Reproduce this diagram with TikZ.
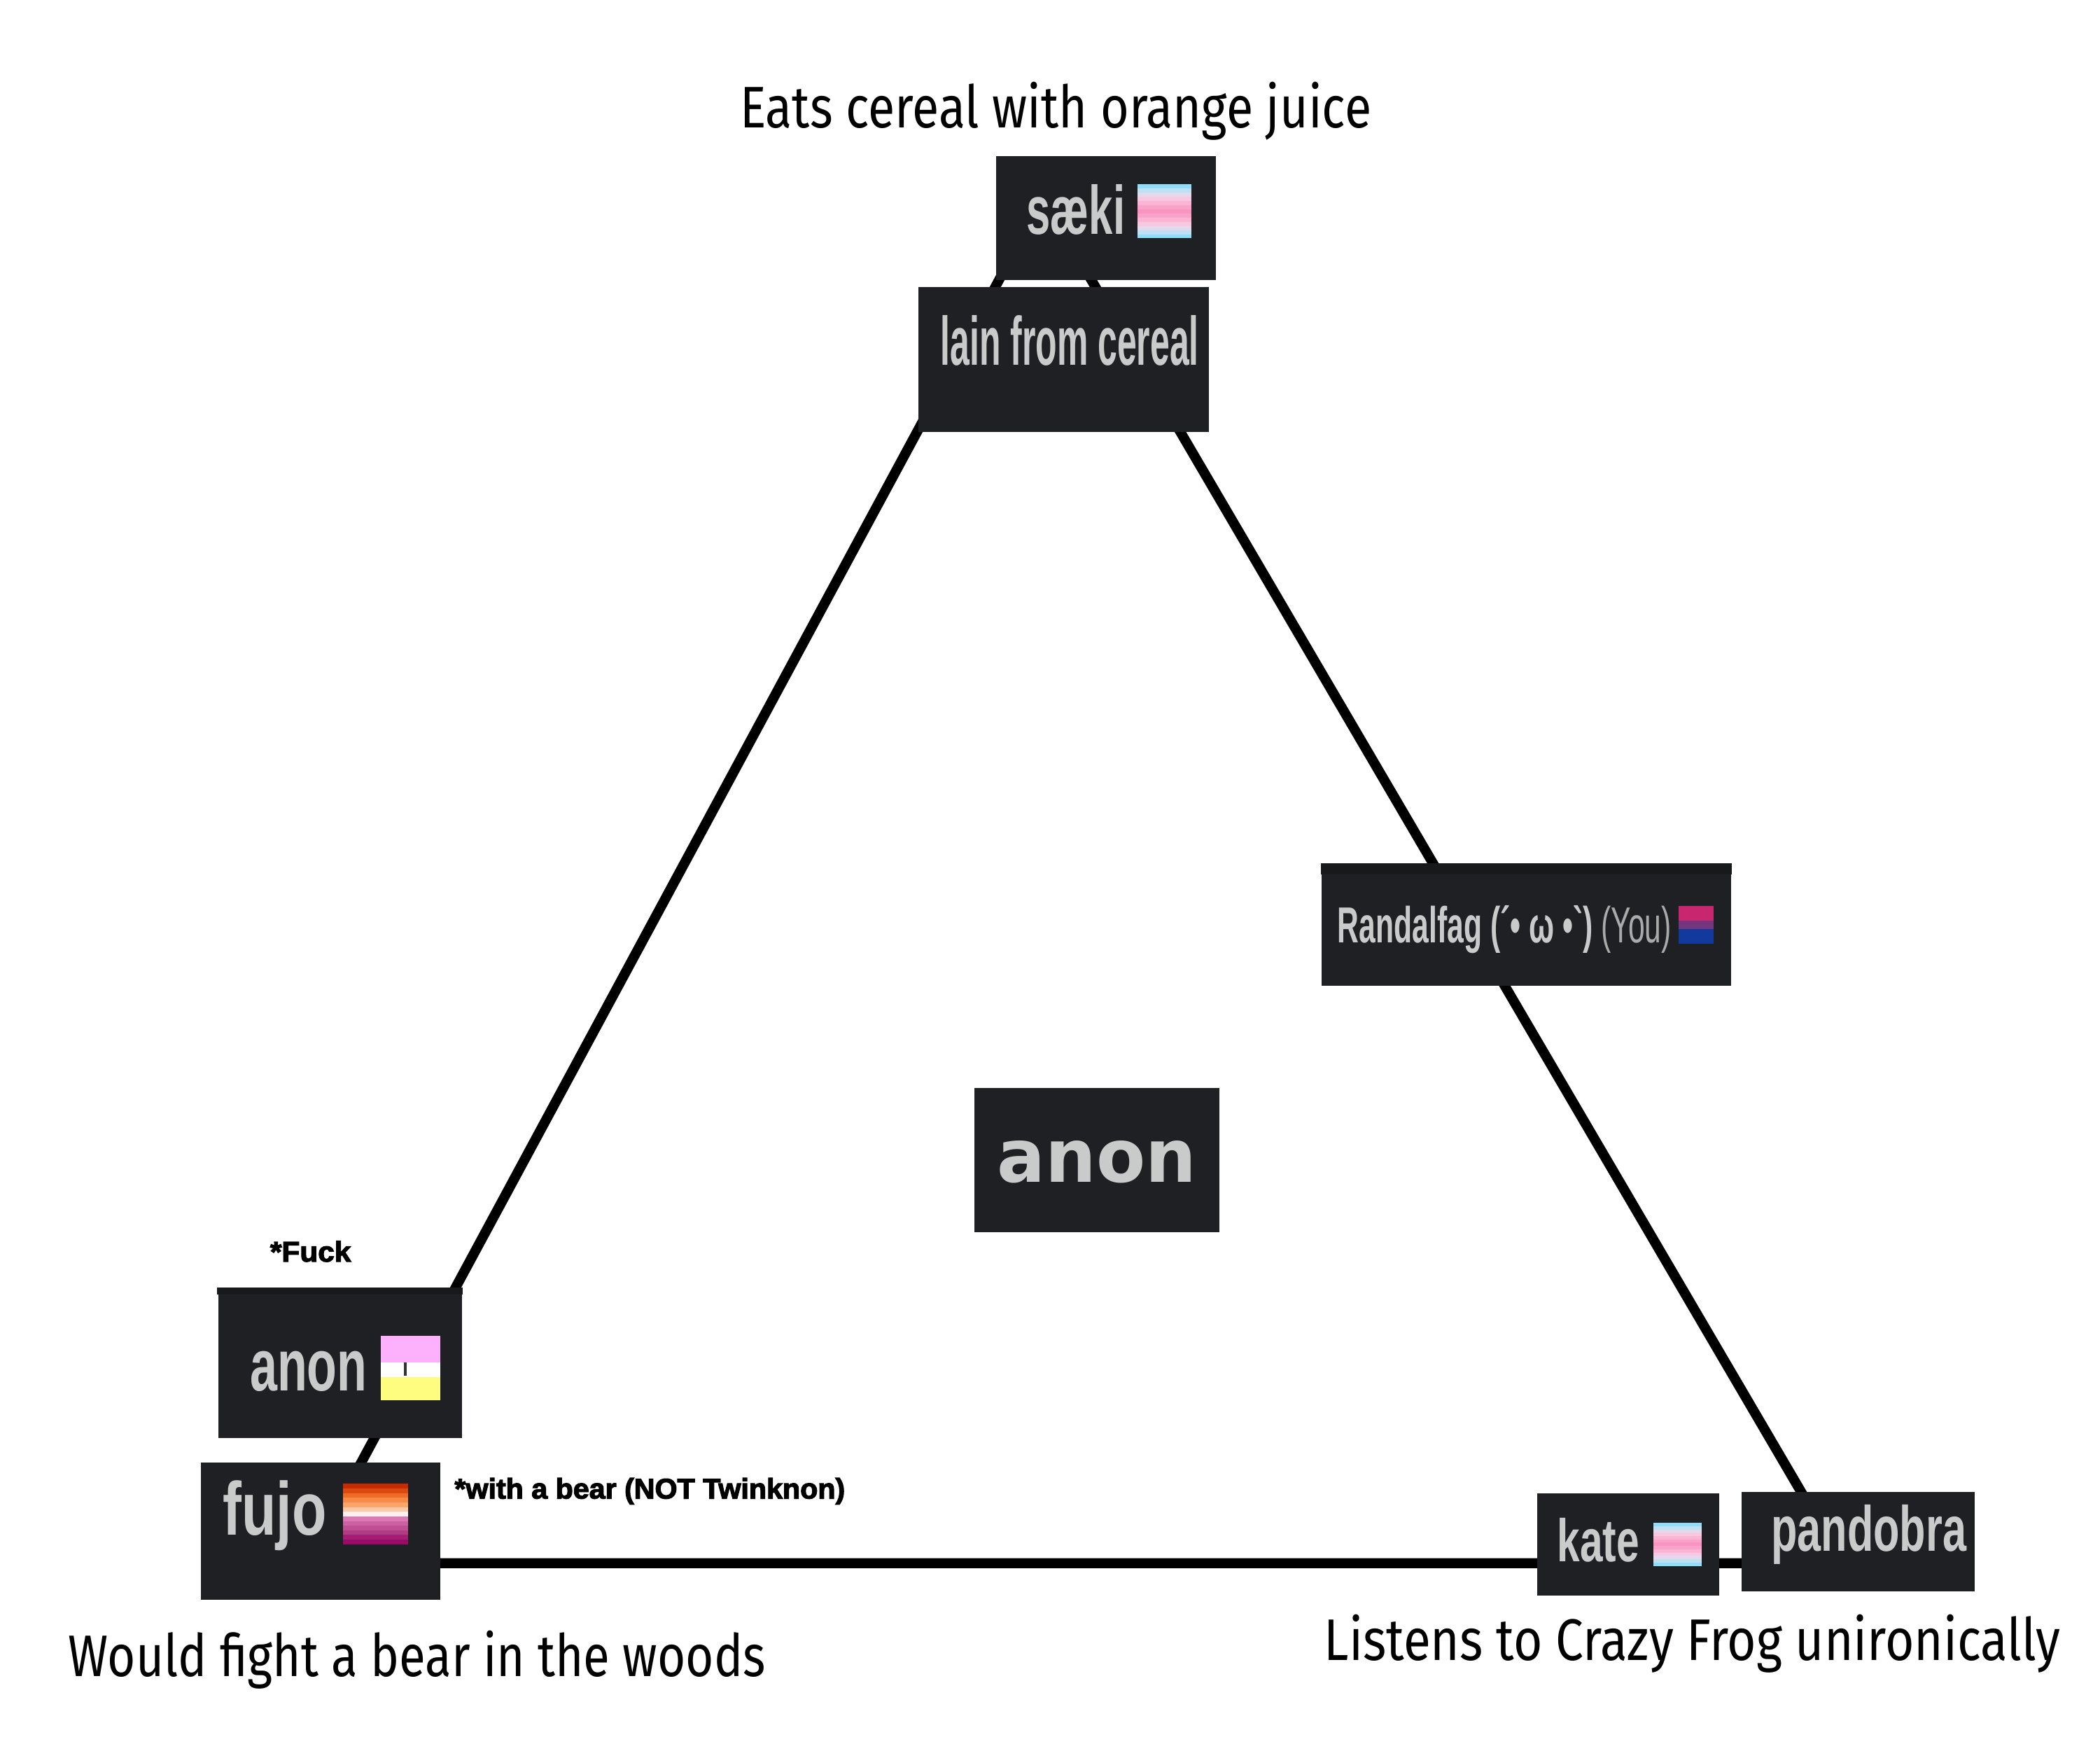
\documentclass[tikz,border=0pt]{standalone}
\usepackage{fontspec}
\usepackage{graphicx}
\setmainfont{Fira Sans}
\newfontfamily\namefont{Liberation Sans}
\newfontfamily\bignamefont{DejaVu Sans}
\newfontfamily\asidefont[FakeBold=3]{Liberation Sans}

\definecolor{boxgray}{HTML}{1F2024}
\definecolor{boxdark}{HTML}{18191B}
\definecolor{namegray}{HTML}{C8CBC9}
\definecolor{yougray}{HTML}{A9AAAA}
\definecolor{bimagenta}{HTML}{C8266E}
\definecolor{bipurple}{HTML}{74367E}
\definecolor{biblue}{HTML}{123A9E}
\definecolor{flagpink}{HTML}{FDB1FD}
\definecolor{flagyellow}{HTML}{FEFD7F}

\newcommand{\fitto}[2]{\resizebox{#1}{\height}{#2}}

\begin{document}
\begin{tikzpicture}[x=0.1mm, y=-0.1mm]
    \tikzset{
        namebox/.style={fill=boxgray, inner sep=0pt},
        nametag/.style={anchor=base west, inner sep=0pt, text=namegray, font=\namefont\bfseries\fontsize{14.5}{16}\selectfont},
        caption/.style={anchor=base west, inner sep=0pt, font=\fontsize{12.4}{14}\selectfont},
        aside/.style={anchor=base west, inner sep=0pt, font=\asidefont\bfseries\fontsize{6}{7}\selectfont},
        edge/.style={line width=2.1pt}
    }
    \fill[white] (0,0) rectangle (1560,1300);
    \useasboundingbox (0,0) rectangle (1560,1300);

    % the triangle, hidden corners behind the boxes
    \coordinate (apex) at (775,147);
    \coordinate (leftfoot) at (228,1161);
    \coordinate (rightfoot) at (1369,1161);
    \draw[edge] (apex) -- (leftfoot) -- (rightfoot) -- cycle;

    % boxes
    \node[namebox, minimum width=16.3mm, minimum height=9.2mm] (saeki) at (821.5,162) {};
    \node[namebox, minimum width=21.6mm, minimum height=10.8mm] (lain) at (790,267) {};
    \node[namebox, minimum width=30.4mm, minimum height=9mm] (randalfag) at (1134,687) {};
    \node[namebox, minimum width=18.2mm, minimum height=10.7mm] (anon) at (815,861.5) {};
    \node[namebox, minimum width=18.1mm, minimum height=11.1mm] (smallanon) at (252.5,1012.5) {};
    \node[namebox, minimum width=17.8mm, minimum height=10.2mm] (fujo) at (238,1137) {};
    \node[namebox, minimum width=13.5mm, minimum height=7.6mm] (kate) at (1209.5,1147) {};
    \node[namebox, minimum width=17.3mm, minimum height=7.4mm] (pandobra) at (1380.5,1145) {};
    \fill[boxdark] (randalfag.north west) rectangle ([yshift=-0.8mm]randalfag.north east);
    \fill[boxdark] (smallanon.north west) rectangle ([yshift=-0.5mm]smallanon.north east);

    % names
    \node[nametag] (saekiname) at (762,174) {\fitto{7.3mm}{sæki}};
    \node[nametag] (lainname) at (698,271) {\fitto{19.2mm}{lain from cereal}};
    \node[nametag, font=\namefont\bfseries\fontsize{10.7}{12}\selectfont] (randalfagname) at (993,700)
        {\fitto{24.8mm}{Randalfag (´• ω •\char"60) \textcolor{yougray}{\mdseries(You)}}};
    \node[anchor=base west, inner sep=0pt, text=namegray, font=\bignamefont\bfseries\fontsize{15.6}{18}\selectfont]
        (anonname) at (740,878) {\fitto{14.8mm}{anon}};
    \node[nametag, font=\namefont\bfseries\fontsize{15.5}{17}\selectfont] (smallanonname) at (185,1033) {\fitto{8.7mm}{anon}};
    \node[nametag, font=\namefont\bfseries\fontsize{15.9}{17}\selectfont] (fujoname) at (165,1140) {\fitto{7.7mm}{fujo}};
    \node[nametag, font=\namefont\bfseries\fontsize{12.7}{14}\selectfont] (katename) at (1156,1160) {\fitto{6.1mm}{kate}};
    \node[nametag, font=\namefont\bfseries\fontsize{13.5}{15}\selectfont] (pandobraname) at (1315,1152) {\fitto{14.5mm}{pandobra}};

    % flags
    \foreach \c [count=\i from 0] in {8FDDF8,BDE0F2,E3D9EC,F7C8DF,FAB4D4,F9A3CA,F894C0,F9A3CA,FAB4D4,F7C8DF,E3D9EC,BDE0F2,8FDDF8} {
        \definecolor{stripe}{HTML}{\c}
        \fill[stripe] (845,{137+\i*3.08}) rectangle (885,{137+(\i+1)*3.08});
        \fill[stripe] (1228,{1131+\i*2.46}) rectangle (1264,{1131+(\i+1)*2.46});
    }
    \fill[bimagenta] (1247,673) rectangle (1273,684);
    \fill[bipurple] (1247,684) rectangle (1273,690);
    \fill[biblue] (1247,690) rectangle (1273,701);
    \fill[flagpink] (283,992) rectangle (327,1012);
    \fill[white] (283,1012) rectangle (327,1023);
    \fill[flagyellow] (283,1023) rectangle (327,1040);
    \fill[black!80] (300,1012) rectangle (302,1022);
    \foreach \c [count=\i from 0] in {C62A00,DA4A10,EE6C28,F88A45,FBA46C,FCC9A8,FDEEF0,DA7AB5,CC62A4,BF4E93,B03C86,A21F74,990C66} {
        \definecolor{stripe}{HTML}{\c}
        \fill[stripe] (255,{1102+\i*3.46}) rectangle (303,{1102+(\i+1)*3.46});
    }

    % notes
    \node[caption] (cerealnote) at (549,95) {\fitto{46.9mm}{Eats cereal with orange juice}};
    \node[caption] (bearnote) at (50,1245) {\fitto{51.8mm}{Would fight a bear in the woods}};
    \node[caption] (frognote) at (983,1233) {\fitto{54.7mm}{Listens to Crazy Frog unironically}};
    \node[aside] (fucknote) at (200,937) {\fitto{6mm}{*Fuck}};
    \node[aside] (twinknote) at (337,1113) {\fitto{29mm}{*with a bear (NOT Twinknon)}};
\end{tikzpicture}
\end{document}
